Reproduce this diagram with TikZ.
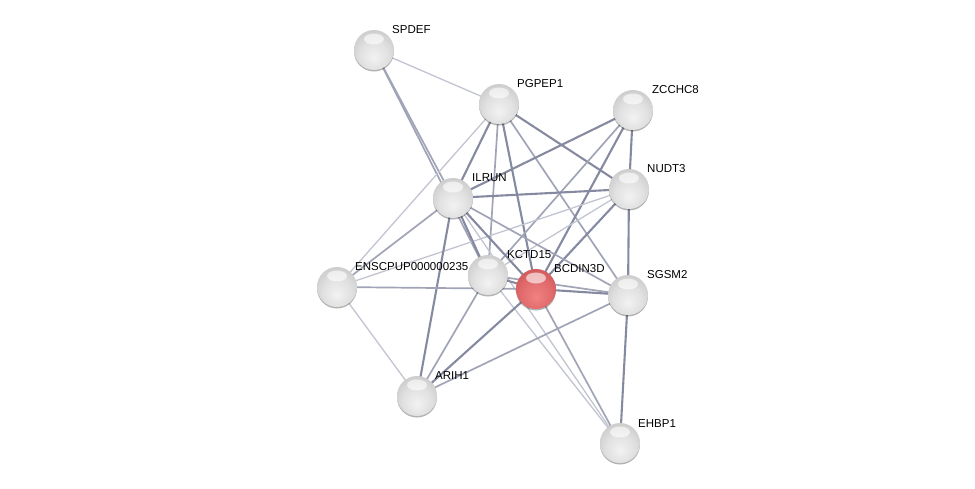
\documentclass[tikz,border=0pt]{standalone}
\usepackage{fontspec}
\setmainfont{Liberation Sans}
\pgfdeclarelayer{edges}
\pgfdeclarelayer{labels}
\pgfsetlayers{edges,labels,main}
\definecolor{edgeD}{HTML}{868AA0}
\definecolor{edgeM}{HTML}{A0A4B6}
\definecolor{edgeL}{HTML}{C2C5D1}
\pgfdeclareradialshading{greyball}{\pgfpoint{0bp}{-10bp}}{%
  color(0bp)=(white!95!black); color(18bp)=(white!88!black); color(32bp)=(white!79!black);
  color(44bp)=(white!70!black); color(52bp)=(white!58!black); color(60bp)=(white!42!black)}
\pgfdeclareradialshading{redball}{\pgfpoint{0bp}{-10bp}}{%
  color(0bp)=(rgb,255:red,240;green,130;blue,130); color(18bp)=(rgb,255:red,226;green,108;blue,110);
  color(32bp)=(rgb,255:red,208;green,88;blue,90); color(44bp)=(rgb,255:red,188;green,70;blue,72);
  color(52bp)=(rgb,255:red,160;green,52;blue,54); color(60bp)=(rgb,255:red,120;green,34;blue,36)}
\tikzset{
  prot/.style={circle, minimum size=40pt, inner sep=0pt, shading=greyball,
    preaction={fill=black, opacity=0.3, transform canvas={yshift=-1.5pt}},
    path picture={\fill[white, opacity=0.6] ([yshift=11pt]path picture bounding box.center) ellipse (10pt and 5.5pt);}},
  query/.style={prot, shading=redball},
  lab/.style={anchor=base west, inner sep=0pt, font=\fontsize{11.5}{12}\selectfont},
  ed/.style={draw=edgeD, line width=2.1pt},
  em/.style={draw=edgeM, line width=1.7pt},
  el/.style={draw=edgeL, line width=1.3pt}
}
\begin{document}
\begin{tikzpicture}[x=1pt,y=-1pt]
\useasboundingbox (0,0) rectangle (975,488);
% nodes
\node[prot]  (spdef)  at (374,50)  {};
\node[prot]  (pgpep1) at (499,104) {};
\node[prot]  (zcchc8) at (633,110) {};
\node[prot]  (nudt3)  at (629,189) {};
\node[prot]  (ilrun)  at (453,198) {};
\node[prot]  (enscp)  at (337,287) {};
\node[prot]  (kctd15) at (488,275) {};
\node[query] (bcdin3d) at (536,289) {};
\node[prot]  (sgsm2)  at (628,295) {};
\node[prot]  (arih1)  at (417,396) {};
\node[prot]  (ehbp1)  at (620,443) {};
% labels
\begin{pgfonlayer}{labels}
\node[lab] (lspdef)  at (392,33)  {SPDEF};
\node[lab] (lpgpep1) at (517,87)  {PGPEP1};
\node[lab] (lzcchc8) at (652,93)  {ZCCHC8};
\node[lab] (lnudt3)  at (647,172) {NUDT3};
\node[lab] (lilrun)  at (472,181) {ILRUN};
\node[lab] (lkctd15) at (507,258) {KCTD15};
\node[lab] (lbcdin3d) at (554,272) {BCDIN3D};
\node[lab] (lsgsm2)  at (647,278) {SGSM2};
\node[lab] (lenscp)  at (355,270) {ENSCPUP000000235};
\node[lab] (larih1)  at (435,379) {ARIH1};
\node[lab] (lehbp1)  at (638,427) {EHBP1};
\end{pgfonlayer}
% edges
\begin{pgfonlayer}{edges}
\draw[el] (spdef.center) -- (pgpep1.center);
\draw[em] (spdef.center) -- (ilrun.center);
\draw[em] (spdef.center) -- (kctd15.center);
\draw[el] (pgpep1.center) -- (enscp.center);
\draw[ed] (pgpep1.center) -- (ilrun.center);
\draw[em] (pgpep1.center) -- (kctd15.center);
\draw[ed] (pgpep1.center) -- (bcdin3d.center);
\draw[em] (pgpep1.center) -- (sgsm2.center);
\draw[ed] (pgpep1.center) -- (nudt3.center);
\draw[ed] (zcchc8.center) -- (ilrun.center);
\draw[ed] (zcchc8.center) -- (nudt3.center);
\draw[em] (zcchc8.center) -- (kctd15.center);
\draw[ed] (zcchc8.center) -- (bcdin3d.center);
\draw[ed] (nudt3.center) -- (ilrun.center);
\draw[ed] (nudt3.center) -- (sgsm2.center);
\draw[el] (nudt3.center) -- (enscp.center);
\draw[ed] (nudt3.center) -- (bcdin3d.center);
\draw[el] (nudt3.center) -- (kctd15.center);
\draw[em] (ilrun.center) -- (enscp.center);
\draw[ed] (ilrun.center) -- (arih1.center);
\draw[ed] (ilrun.center) -- (kctd15.center);
\draw[ed] (ilrun.center) -- (bcdin3d.center);
\draw[em] (ilrun.center) -- (sgsm2.center);
\draw[el] (ilrun.center) -- (ehbp1.center);
\draw[ed] (kctd15.center) -- (bcdin3d.center);
\draw[em] (kctd15.center) -- (arih1.center);
\draw[el] (kctd15.center) -- (ehbp1.center);
\draw[em] (kctd15.center) -- (sgsm2.center);
\draw[em] (enscp.center) -- (bcdin3d.center);
\draw[el] (enscp.center) -- (arih1.center);
\draw[ed] (bcdin3d.center) -- (sgsm2.center);
\draw[ed] (bcdin3d.center) -- (arih1.center);
\draw[em] (bcdin3d.center) -- (ehbp1.center);
\draw[em] (sgsm2.center) -- (arih1.center);
\draw[ed] (sgsm2.center) -- (ehbp1.center);
\end{pgfonlayer}
\end{tikzpicture}
\end{document}
